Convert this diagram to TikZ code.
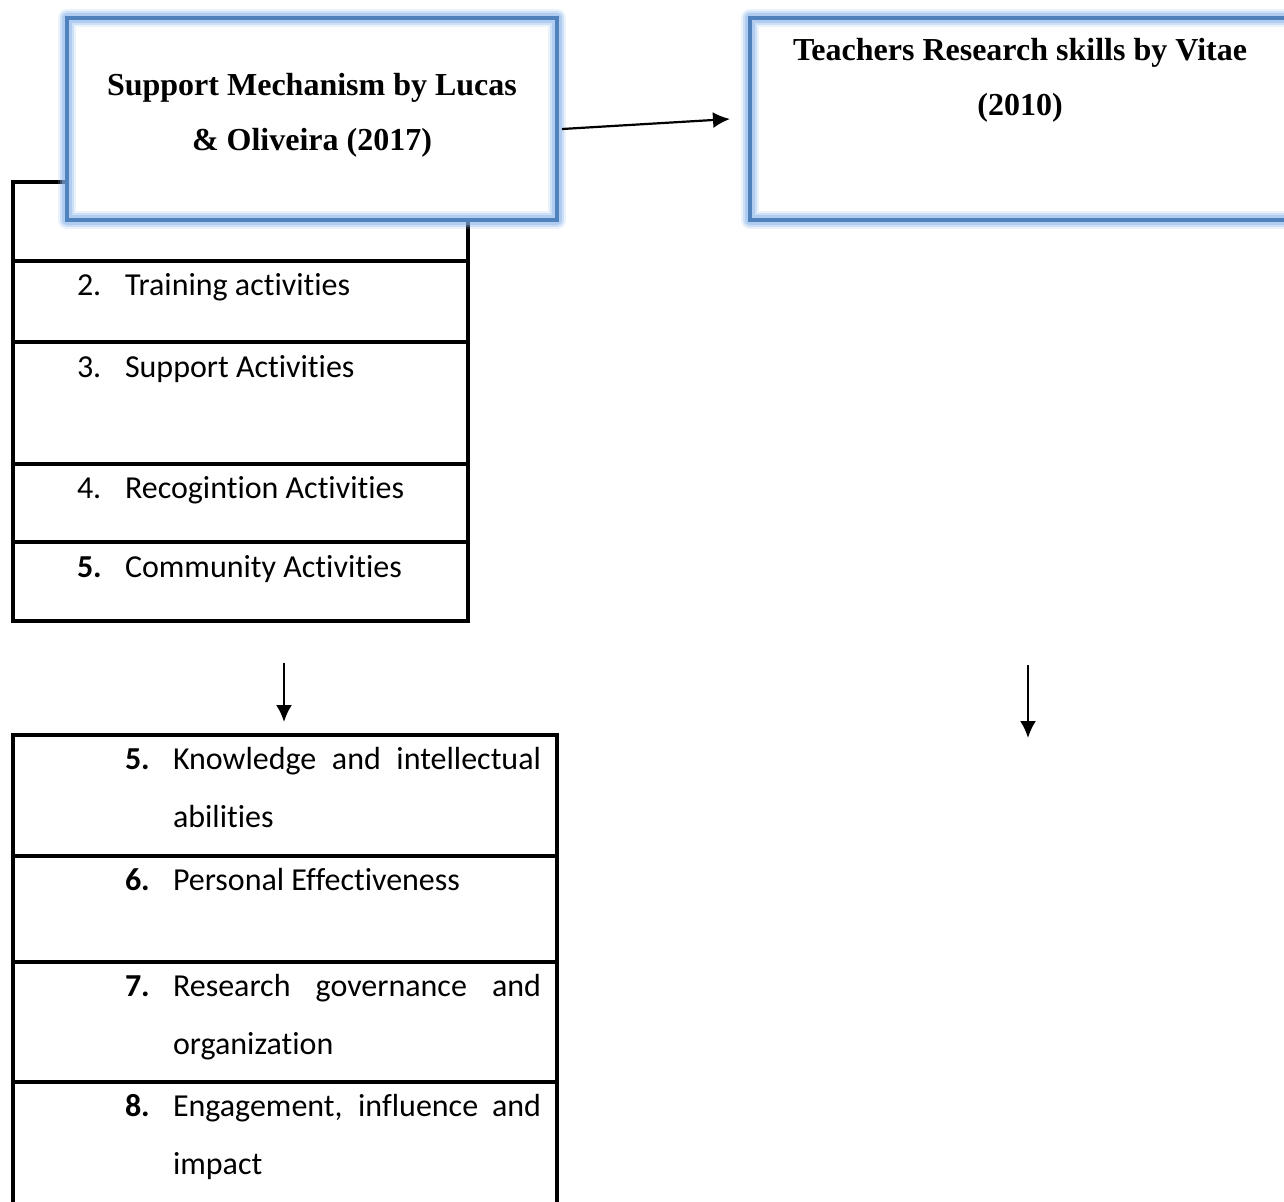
\documentclass[tikz,border=0pt]{standalone}
\usepackage{fontspec}
\setmainfont{Liberation Serif}
\newfontfamily\carlito[Ligatures=NoCommon]{Carlito}
\usetikzlibrary{arrows.meta}
\definecolor{bord}{HTML}{4F81BD}
\definecolor{glowc}{HTML}{8DB8EC}
\tikzset{
  cell/.style={draw=black, line width=1.7pt, outer sep=0pt, inner sep=0pt, anchor=north west, fill=white},
  item/.style={font=\carlito\fontsize{16}{19}\selectfont, anchor=base west, inner sep=0pt, outer sep=0pt},
  num/.style={font=\carlito\bfseries\fontsize{16}{19}\selectfont, anchor=base west, inner sep=0pt, outer sep=0pt},
  arr/.style={line width=1.1pt, -{Latex[length=8.5pt,width=8pt]}},
  titletext/.style={font=\bfseries\fontsize{16}{27.5}\selectfont, align=center, inner sep=0pt},
  bluebox/.style={fill=white, outer sep=0pt, inner sep=0pt},
}
\newcommand{\glowframe}[1]{%
  \draw[glowc, opacity=0.18, line width=9pt, line join=round] (#1.north west) rectangle (#1.south east);
  \draw[glowc, opacity=0.3, line width=7pt, line join=round] (#1.north west) rectangle (#1.south east);
  \draw[glowc, opacity=0.45, line width=5pt, line join=round] (#1.north west) rectangle (#1.south east);
  \draw[bord, line width=2.4pt] (#1.north west) rectangle (#1.south east);
}
\begin{document}
\begin{tikzpicture}[x=0.5pt,y=-0.5pt]
\clip (0,0) rectangle (1284,1201);
\fill[white] (0,0) rectangle (1284,1201);

% upper list
\node[cell, minimum width=227.5pt, minimum height=39.5pt] (L1) at (13,182) {};
\node[cell, minimum width=227.5pt, minimum height=40.5pt] (L2) at (13,261) {};
\node[cell, minimum width=227.5pt, minimum height=61pt] (L3) at (13,342) {};
\node[cell, minimum width=227.5pt, minimum height=39pt] (L4) at (13,464) {};
\node[cell, minimum width=227.5pt, minimum height=39.5pt] (L5) at (13,542) {};

\node[item] (n2) at (77,295) {2.};
\node[item] (t2) at (125,295) {Training activities};
\node[item] (n3) at (77,377) {3.};
\node[item] (t3) at (125,377) {Support Activities};
\node[item] (n4) at (77,498) {4.};
\node[item] (t4) at (125,498) {Recogintion Activities};
\node[num] (n5) at (77,577) {5.};
\node[item] (t5) at (125,577) {Community Activities};

% box A
\node[bluebox, minimum width=245pt, minimum height=101pt] (A) at (312,119) {};
\glowframe{A}
\node[titletext] (tA) at (312,115) {Support Mechanism by Lucas\\ \& Oliveira (2017)};

% box B
\node[bluebox, minimum width=280pt, minimum height=101pt] (B) at (1030,119) {};
\glowframe{B}
\node[titletext] (tB) at (1020,80) {Teachers Research skills by Vitae\\ (2010)};

% arrows
\coordinate (a1s) at ([shift={(5,10)}]A.east);
\coordinate (a1e) at ([shift={(-20,0)}]B.west);
\draw[arr] (a1s) -- (a1e);

\coordinate (d1s) at (284,663);
\coordinate (d1e) at (284,722);
\draw[arr] (d1s) -- (d1e);
\coordinate (d2s) at (1028,665);
\coordinate (d2e) at (1028,738);
\draw[arr] (d2s) -- (d2e);

% lower list
\node[cell, minimum width=272pt, minimum height=60.5pt] (M1) at (13,735) {};
\node[cell, minimum width=272pt, minimum height=53pt] (M2) at (13,856) {};
\node[cell, minimum width=272pt, minimum height=60pt] (M3) at (13,962) {};
\node[cell, minimum width=272pt, minimum height=80pt] (M4) at (13,1082) {};

\node[num] (m5) at (125,769) {5.};
\node[item] (u5a) at (173,769) {\makebox[184pt][s]{Knowledge and intellectual}};
\node[item] (u5b) at (173,827) {abilities};
\node[num] (m6) at (125,890) {6.};
\node[item] (u6) at (173,890) {Personal Effectiveness};
\node[num] (m7) at (125,996) {7.};
\node[item] (u7a) at (173,996) {\makebox[184pt][s]{Research governance and}};
\node[item] (u7b) at (173,1054) {organization};
\node[num] (m8) at (125,1116) {8.};
\node[item] (u8a) at (173,1116) {\makebox[184pt][s]{Engagement, influence and}};
\node[item] (u8b) at (173,1174) {impact};
\end{tikzpicture}
\end{document}
